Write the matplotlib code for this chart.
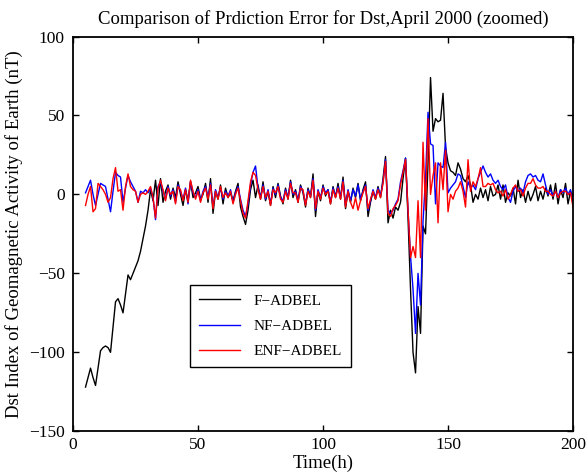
import numpy as np
import matplotlib
matplotlib.use('Agg')
import matplotlib.pyplot as plt

# horas (x = 5 ... 200)
horas = np.arange(5, 201)

f_adbel = [
    -122, -116, -110, -116, -121, -110, -99, -97, -96, -97,
    -100, -84, -68, -66, -70, -75, -63, -51, -54, -50,
    -46, -42, -36, -28, -20, -10, 3, -4, 9, -7,
    10, -5, 2, 6, -3, 4, -2, 8, 0, -7,
    3, -4, 8, -2, 1, 5, -3, 0, 7, -5,
    10, -12, 2, -3, 6, -6, 4, -2, 1, -4,
    2, 7, -8, -14, -19, -10, 3, 9, -2, 6,
    -3, 8, -4, 2, -7, 5, -2, 7, -1, -6,
    4, -3, 9, -2, 3, -5, 6, 1, -8, 4,
    -2, 13, -14, 2, -4, 6, -1, 3, -6, 5,
    -2, 7, -3, 11, -9, 2, -5, 4, -2, 7,
    -4, 3, 8, -14, -5, 2, -3, 5, -2, 10,
    24, -18, -10, -15, -8, -10, -5, 10, 23, -15,
    -60, -100, -113, -71, -88, -20, -25, 20, 74, 40,
    48, 46, 47, 64, 30, 20, 15, 14, 12, 20,
    16, 10, 8, 12, 6, -5, 0, -3, 4, -2,
    3, -4, 5, -1, 0, 6, -3, 6, -5, 1,
    -1, 4, -6, 9, -2, 3, -5, 2, -4, 0,
    5, -4, 2, -3, 4, -1, 6, -3, 7, -6,
    3, -2, 7, -6, 2, -2,
]

nf_adbel = [
    1, 5, 9, 0, -7, 0, 7, 6, 5, -3,
    -11, 2, 14, 12, 11, -5, 4, 12, 8, 5,
    2, -5, 2, 1, 3, 1, 4, -2, -16, 5,
    8, 2, -3, 5, -1, 3, -5, 6, 2, -3,
    4, -6, 8, 1, -2, 3, -4, 2, 5, -2,
    7, -8, 3, -2, 4, -3, 2, -1, 3, -5,
    1, 5, -3, -10, -14, -6, 6, 14, 18, 4,
    -2, 6, -3, 3, -6, 4, 0, 6, -2, -4,
    3, -2, 8, 0, 2, -4, 5, 2, -6, 3,
    -1, 10, -10, 3, -2, 5, 1, 3, -5, 4,
    -1, 5, -2, 9, -7, 3, -4, 3, -1, 6,
    -3, 2, 6, -10, -4, 3, -2, 4, -1, 8,
    22, -10, -12, -10, -6, -3, 8, 15, 23, -10,
    -39, -60, -88, -50, -70, -17, 10, 52, 32, 31,
    -6, 20, 18, 17, 33, 1, 4, 6, 8, 13,
    12, 5, -2, 8, 4, 6, 3, 10, 14, 18,
    14, 11, 13, 9, 7, 9, 5, 3, 6, -2,
    -5, 2, 5, 2, 4, 1, 8, 12, 13, 11,
    12, 9, 8, 13, 6, 0, 3, -1, 2, -2,
    3, 1, 4, 0, 3, -6,
]

enf_adbel = [
    -7, 0, 5, -11, -9, 7, 5, 3, 0, -5,
    -2, 10, 17, 2, 3, -10, 5, 13, 5, 3,
    2, -5, 0, 1, 0, 2, 5, -2, -15, 4,
    9, 3, -4, 4, 0, 2, -6, 5, 3, -4,
    3, -5, 9, 2, -3, 2, -5, 1, 4, -3,
    6, -9, 2, -3, 5, -2, 1, -2, 2, -6,
    0, 4, -4, -12, -15, -4, 8, 14, 12, 3,
    -3, 5, -2, 2, -7, 3, 1, 5, -3, -5,
    2, -3, 7, 1, 1, -5, 4, 3, -7, 2,
    -2, 9, -9, 2, -3, 4, 0, 2, -6, 3,
    -2, 4, -3, 8, -8, 2, -5, -9, -2, -10,
    -4, 1, 5, -9, -3, 2, -3, 3, -2, 7,
    21, -12, -14, -9, -7, -4, 6, 14, 22, -10,
    -40, -33, -40, -4, -40, 33, -10, 48, 0, 12,
    20, -18, 20, 3, 28, -11, 0, -3, 2, 4,
    8, 2, -8, 22, 2, 8, 5, 10, 17, 5,
    5, 7, 6, 7, 3, 1, 2, -1, 3, -3,
    0, 4, 6, 2, 3, -1, 4, 7, 7, 10,
    6, 4, 4, 5, 2, 2, 0, -1, 2, -2,
    1, 2, 2, 0, 1, -8,
]

plt.rcParams['font.family'] = 'Liberation Serif'

fig = plt.figure(figsize=(5.87, 4.73), dpi=100)
ax = fig.add_axes([0.1244, 0.0882, 0.8518, 0.8346])

ax.plot(horas, f_adbel, color='k', lw=1.0, label='F\u2212ADBEL')
ax.plot(horas, nf_adbel, color='b', lw=1.0, label='NF\u2212ADBEL')
ax.plot(horas, enf_adbel, color='r', lw=1.0, label='ENF\u2212ADBEL')

ax.set_xlim(0, 200)
ax.set_ylim(-150, 100)
ax.set_xticks([0, 50, 100, 150, 200])
ax.set_yticks([-150, -100, -50, 0, 50, 100])
ax.tick_params(direction='in', top=True, right=True, length=4, width=1,
               labelsize=12.5)
ax.tick_params(axis='x', pad=4)
ax.tick_params(axis='y', pad=6)
for s in ax.spines.values():
    s.set_linewidth(1.3)

ax.set_title('Comparison of Prdiction Error for Dst,April 2000 (zoomed)', fontsize=13.5, pad=9)
ax.set_xlabel('Time(h)', fontsize=13.5, labelpad=1)
ax.set_ylabel('Dst Index of Geomagnetic Activity of Earth (nT)', fontsize=13.5, labelpad=4)

leg = ax.legend(loc='upper left', bbox_to_anchor=(0.234, 0.3706),
                borderaxespad=0, fontsize=11, fancybox=False, framealpha=1,
                edgecolor='k', handlelength=2.7, handletextpad=0.85,
                borderpad=0.6, labelspacing=0.75)
leg.get_frame().set_linewidth(1.0)

plt.savefig('out.png', dpi=100)
plt.close()
